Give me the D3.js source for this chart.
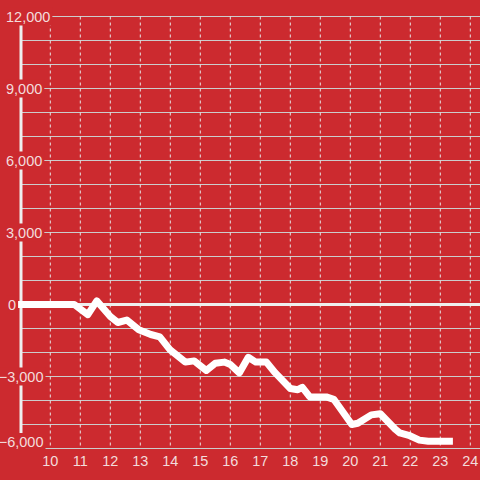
<!DOCTYPE html>
<html><head><meta charset="utf-8">
<script src="https://cdn.jsdelivr.net/npm/d3@7"></script>
<style>html,body{margin:0;padding:0;background:#cc2a2f;}svg{display:block;}</style>
</head><body>
<script>
const xValues = [8.9, 10.8, 11.25, 11.55, 12.0, 12.25, 12.55, 12.95, 13.35, 13.65, 14.0, 14.5, 14.8, 15.2, 15.5, 15.8, 16.0, 16.3, 16.6, 16.85, 17.2, 17.5, 18.0, 18.25, 18.4, 18.65, 19.2, 19.45, 20.05, 20.25, 20.7, 21.0, 21.5, 21.65, 21.95, 22.3, 22.6, 23.42];
const yValues = [0, 0, -420, 150, -500, -750, -650, -1050, -1250, -1350, -1900, -2400, -2350, -2750, -2450, -2400, -2500, -2850, -2200, -2400, -2400, -2850, -3500, -3550, -3450, -3850, -3850, -3950, -5000, -4950, -4600, -4550, -5200, -5350, -5450, -5650, -5700, -5700];
const xTicks = [10,11,12,13,14,15,16,17,18,19,20,21,22,23,24];
const yLabelTicks = [-6000,-3000,0,3000,6000,9000,12000];
const yGridTicks = d3.range(-6000, 12001, 1000);

const W = 480, H = 480;
const svg = d3.select("body").append("svg").attr("width", W).attr("height", H);
svg.append("rect").attr("width", W).attr("height", H).attr("fill", "#cc2a2f");

const x = d3.scaleLinear().domain([9, 24]).range([20.3, 470.3]);
const y = d3.scaleLinear().domain([-6000, 12000]).range([448.5, 16.5]);
const font = "'Liberation Sans', Arial, sans-serif";

// horizontal gridlines
svg.append("g").selectAll("line").data(yGridTicks).join("line")
  .attr("x1", 22).attr("x2", W)
  .attr("y1", d => y(d)).attr("y2", d => y(d))
  .attr("stroke", "#cccccc").attr("stroke-width", 1);

// vertical dashed gridlines
svg.append("g").selectAll("line").data(xTicks).join("line")
  .attr("x1", d => x(d)).attr("x2", d => x(d))
  .attr("y1", y(12000)).attr("y2", y(-6000))
  .attr("stroke", "#e6e6e6").attr("stroke-width", 1)
  .attr("stroke-dasharray", "3,3");

// y axis line
svg.append("line").attr("x1", 21).attr("x2", 21)
  .attr("y1", y(12000)).attr("y2", y(-6000))
  .attr("stroke", "#eeeeee").attr("stroke-width", 3);

// zero line
svg.append("line").attr("x1", 20).attr("x2", W)
  .attr("y1", y(0)).attr("y2", y(0))
  .attr("stroke", "#eeeeee").attr("stroke-width", 3);

// data line
const line = d3.line().x((d, i) => x(xValues[i])).y(d => y(d));
svg.append("path").datum(yValues)
  .attr("d", line)
  .attr("fill", "none").attr("stroke", "#ffffff")
  .attr("stroke-width", 7).attr("stroke-linejoin", "round").attr("stroke-linecap", "butt");

// y labels with background
const fmt = d3.format(",");
const yl = svg.append("g").selectAll("g").data(yLabelTicks).join("g");
yl.each(function(d) {
  const g = d3.select(this);
  const t = g.append("text")
    .attr("font-family", font).attr("font-size", 14.5)
    .attr("fill", "#f3dcdc")
    .attr("dominant-baseline", "central")
    .attr("y", Math.min(y(d), 442))
    .text(fmt(d));
  if (d < 0) t.attr("text-anchor", "end").attr("x", 43.5);
  else if (d === 0) t.attr("text-anchor", "start").attr("x", 8);
  else t.attr("text-anchor", "start").attr("x", 6);
  const bb = t.node().getBBox();
  g.insert("rect", "text")
    .attr("x", bb.x - 2).attr("y", bb.y - 1)
    .attr("width", bb.width + 4).attr("height", bb.height + 2)
    .attr("fill", "#cc2a2f");
});

// x labels
svg.append("g").selectAll("text").data(xTicks).join("text")
  .attr("font-family", font).attr("font-size", 14.5)
  .attr("fill", "#f3dcdc")
  .attr("text-anchor", "middle")
  .attr("x", d => x(d)).attr("y", 466)
  .text(d => d);
</script>
</body></html>
